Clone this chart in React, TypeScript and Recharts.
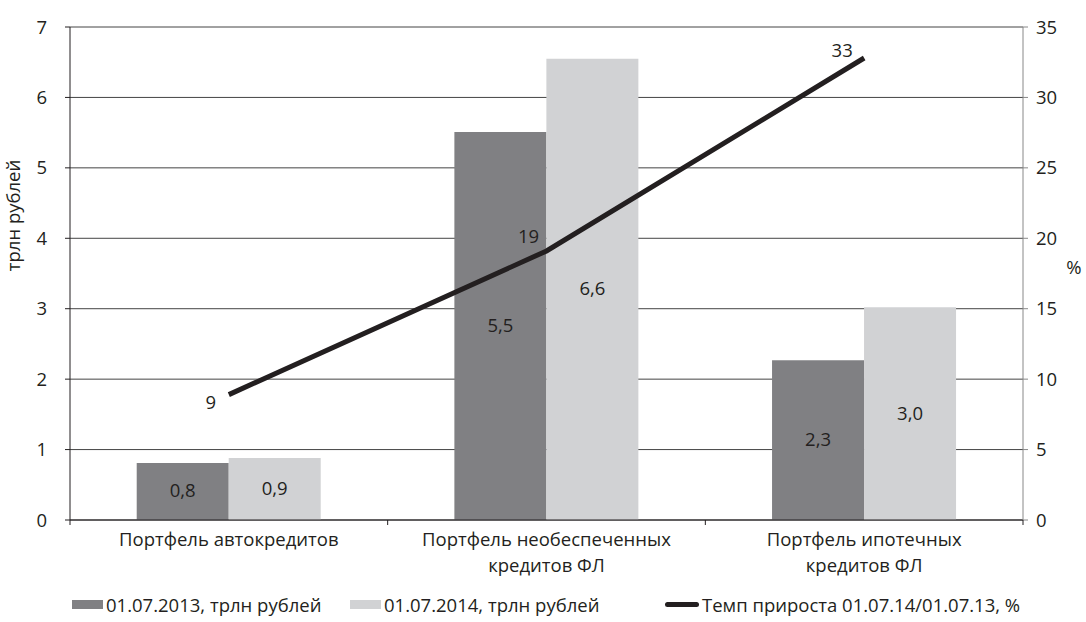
import React from 'react';
import {
  ComposedChart, Bar, Line, XAxis, YAxis, CartesianGrid, LabelList, Legend,
} from 'recharts';

const categories = ['Портфель автокредитов', 'Портфель необеспеченных кредитов ФЛ', 'Портфель ипотечных кредитов ФЛ'];
const categoryLines = [['Портфель автокредитов'], ['Портфель необеспеченных', 'кредитов ФЛ'], ['Портфель ипотечных', 'кредитов ФЛ']];
const values2013 = [0.81, 5.51, 2.27];
const values2014 = [0.88, 6.55, 3.02];
const labels2013 = ['0,8', '5,5', '2,3'];
const labels2014 = ['0,9', '6,6', '3,0'];
const growth = [9, 19, 33];
const growthPlot = [8.9, 19.1, 32.8];
const leftTicks = [0, 1, 2, 3, 4, 5, 6, 7];
const rightTicks = [0, 5, 10, 15, 20, 25, 30, 35];

const data = categories.map((c, i) => ({
  name: c,
  lines: categoryLines[i],
  v13: values2013[i],
  v14: values2014[i],
  l13: labels2013[i],
  l14: labels2014[i],
  g: growthPlot[i],
  gl: growth[i],
}));

const FONT = '"Open Sans", sans-serif';
const FS = 18.5;
const TEXT = '#231f20';
const DARK = '#808083';
const LIGHT = '#d1d2d4';

const W = 1086;
const H = 622;
const LEFT_W = 70;
const RIGHT_W = 63;
const bandHalf = (W - LEFT_W - RIGHT_W) / categories.length / 2;

function CategoryTick(props: any) {
  const { x, y, payload } = props;
  const lines: string[] = data[payload.index]?.lines ?? [payload.value];
  return (
    <g>
      <line x1={x - bandHalf} y1={y - 8} x2={x - bandHalf} y2={y - 3} stroke={TEXT} />
      {payload.index === categories.length - 1 && (
        <line x1={x + bandHalf} y1={y - 8} x2={x + bandHalf} y2={y - 3} stroke={TEXT} />
      )}
      {lines.map((t, i) => (
        <text key={i} x={x} y={y + 18 + i * 26} textAnchor="middle" fontSize={FS} fill={TEXT} fontFamily={FONT}>
          {t}
        </text>
      ))}
    </g>
  );
}

const growthOffsets = [
  { dx: -18, dy: 14 },
  { dx: -18, dy: -8 },
  { dx: -22, dy: -1 },
];

function GrowthLabel(props: any) {
  const { x, y, index, value } = props;
  const o = growthOffsets[index] ?? { dx: -18, dy: 0 };
  return (
    <text x={x + o.dx} y={y + o.dy} textAnchor="middle" fontSize={FS} fill={TEXT} fontFamily={FONT}>
      {value}
    </text>
  );
}

function BarValueLabel(props: any) {
  const { x, y, width, height, value } = props;
  return (
    <text x={x + width / 2} y={y + height / 2 + 6} textAnchor="middle" fontSize={FS} fill={TEXT} fontFamily={FONT}>
      {value}
    </text>
  );
}

function LegendContent() {
  const item = (swatch: React.ReactNode, text: string, width: number) => (
    <div style={{ display: 'flex', alignItems: 'center', width }}>
      {swatch}
      <span style={{ marginLeft: 3 }}>{text}</span>
    </div>
  );
  return (
    <div style={{ display: 'flex', fontFamily: FONT, fontSize: FS, color: TEXT, paddingLeft: 72, height: 24, alignItems: 'center' }}>
      {item(<div style={{ width: 31, height: 9, background: DARK }} />, '01.07.2013, трлн рублей', 278)}
      {item(<div style={{ width: 31, height: 9, background: LIGHT }} />, '01.07.2014, трлн рублей', 315)}
      {item(<div style={{ width: 34, height: 5, background: TEXT, borderRadius: 3 }} />, 'Темп прироста 01.07.14/01.07.13, %', 420)}
    </div>
  );
}

export default function App() {
  return (
    <div style={{ position: 'absolute', left: 0, top: 0, width: W, height: H, background: '#fff' }}>
      <ComposedChart
        width={W}
        height={H}
        data={data}
        margin={{ top: 27, right: 0, bottom: 18, left: 0 }}
        barGap={0}
        barCategoryGap="21%"
      >
        <CartesianGrid vertical={false} stroke="#444" strokeWidth={1} yAxisId="left" />
        <XAxis
          dataKey="name"
          xAxisId={0}
          height={60}
          tickLine={false}
          axisLine={{ stroke: TEXT }}
          tick={<CategoryTick />}
          interval={0}
        />
        <YAxis
          yAxisId="left"
          width={LEFT_W}
          domain={[0, 7]}
          ticks={leftTicks}
          interval={0}
          tickSize={5}
          tickMargin={18}
          axisLine={{ stroke: TEXT }}
          tickLine={{ stroke: TEXT }}
          tick={{ fontSize: FS, fill: TEXT, fontFamily: FONT }}
          label={({ viewBox }: any) => {
            const cx = viewBox.x + 20;
            const cy = viewBox.y + viewBox.height / 2 - 58;
            return (
              <text x={cx} y={cy} transform={`rotate(-90, ${cx}, ${cy})`} textAnchor="middle" fontSize={FS} fill={TEXT} fontFamily={FONT}>
                трлн рублей
              </text>
            );
          }}
        />
        <YAxis
          yAxisId="right"
          orientation="right"
          width={RIGHT_W}
          domain={[0, 35]}
          ticks={rightTicks}
          interval={0}
          tickSize={5}
          tickMargin={8}
          axisLine={{ stroke: '#888' }}
          tickLine={{ stroke: '#888' }}
          tick={{ fontSize: FS, fill: TEXT, fontFamily: FONT, textAnchor: 'start' }}
          label={({ viewBox }: any) => (
            <text x={viewBox.x + 51} y={viewBox.y + viewBox.height / 2 + 0} textAnchor="middle" fontSize={FS} fill={TEXT} fontFamily={FONT}>
              %
            </text>
          )}
        />
        <Bar yAxisId="left" dataKey="v13" fill={DARK} isAnimationActive={false}>
          <LabelList dataKey="l13" content={<BarValueLabel />} />
        </Bar>
        <Bar yAxisId="left" dataKey="v14" fill={LIGHT} isAnimationActive={false}>
          <LabelList dataKey="l14" content={<BarValueLabel />} />
        </Bar>
        <Line
          yAxisId="right"
          type="linear"
          dataKey="g"
          stroke={TEXT}
          strokeWidth={5}
          dot={false}
          activeDot={false}
          isAnimationActive={false}
        >
          <LabelList dataKey="gl" content={<GrowthLabel />} />
        </Line>
        <Legend verticalAlign="bottom" align="left" content={<LegendContent />} wrapperStyle={{ left: 0, bottom: 6 }} />
      </ComposedChart>
    </div>
  );
}
